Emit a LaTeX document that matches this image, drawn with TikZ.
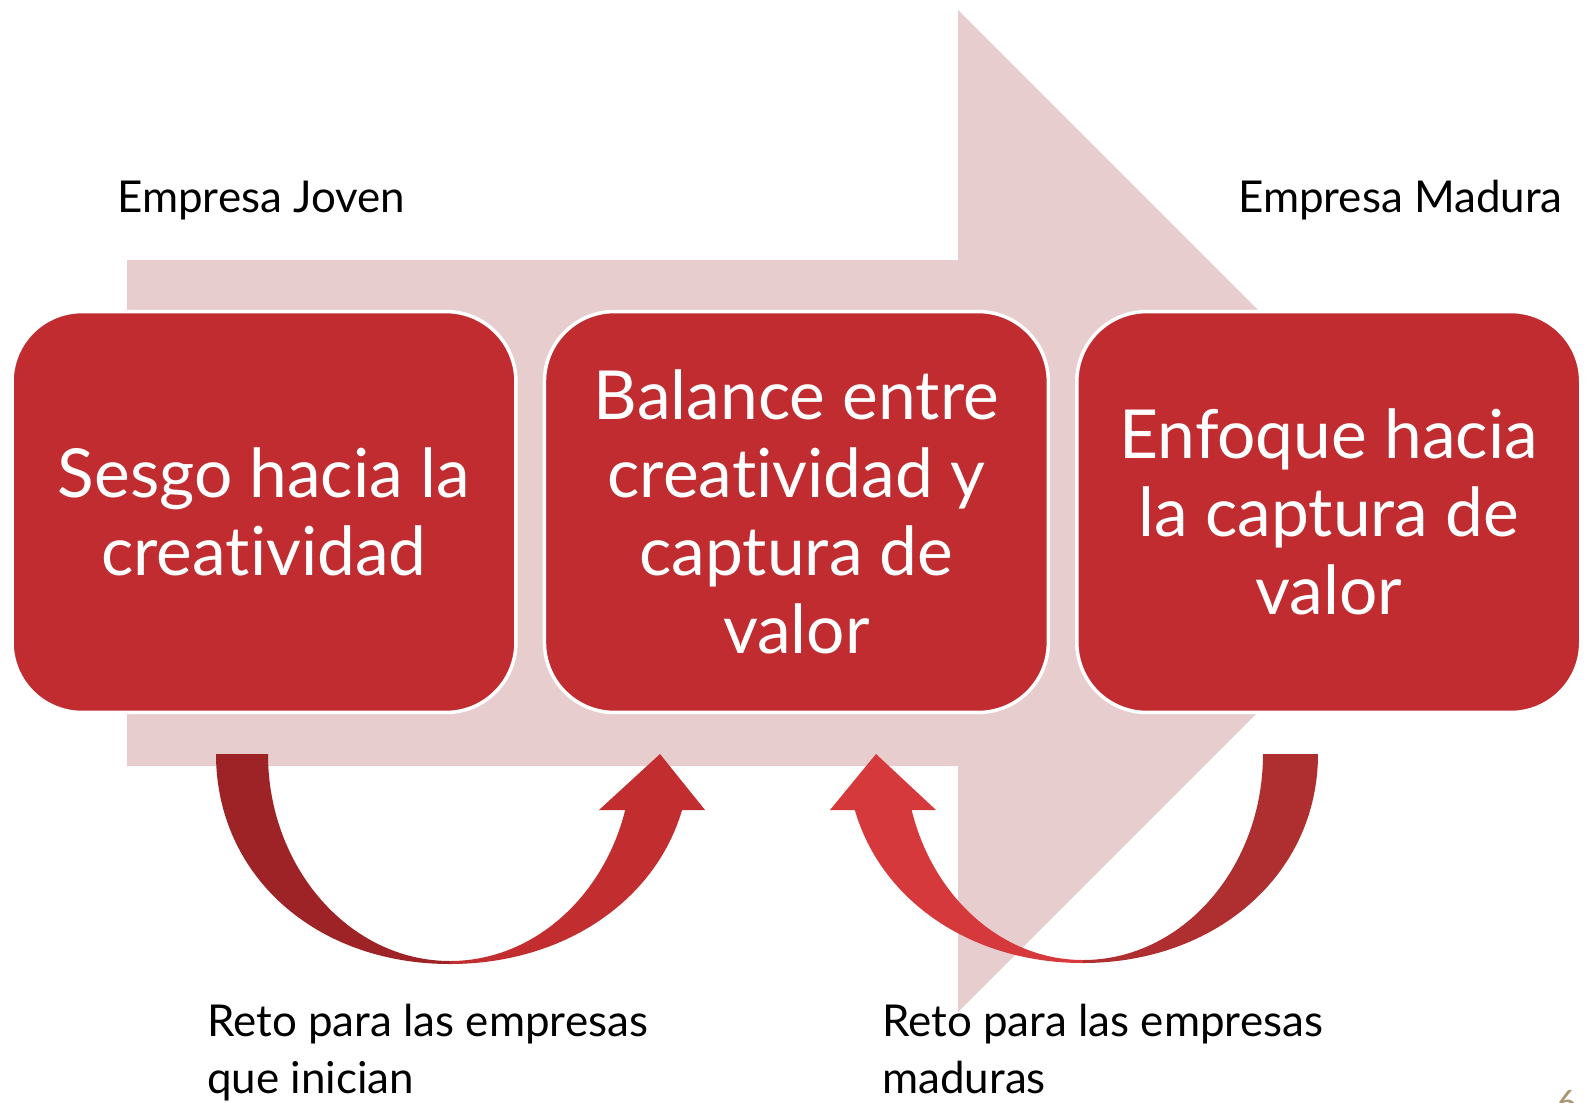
\documentclass[tikz,border=0pt]{standalone}
\usepackage{fontspec}
\setmainfont{Lato}[Ligatures=NoCommon]
\usepackage{tikz}
\usetikzlibrary{calc, positioning}

\definecolor{arrowpink}{RGB}{232,205,206}
\definecolor{boxred}{RGB}{193,44,48}
\definecolor{darkred}{RGB}{158,35,39}
\definecolor{midred}{RGB}{194,46,48}
\definecolor{tailred}{RGB}{175,47,49}
\definecolor{headred}{RGB}{213,57,59}
\definecolor{pagegold}{RGB}{170,150,110}

\tikzset{
  stage/.style={draw=white, line width=0.07cm, fill=boxred, rounded corners=1.4cm,
    minimum width=10.08cm, minimum height=8.02cm, align=center, text=white,
    font=\fontsize{38.5}{44.4}\selectfont},
  lbl/.style={anchor=base west, inner sep=0pt, align=left,
    font=\fontsize{25}{31.9}\selectfont}
}

\begin{document}
\begin{tikzpicture}[x=0.02cm, y=-0.02cm]
\useasboundingbox (0,0) rectangle (1587,1103);

\fill[arrowpink] (127,260) -- (958,260) -- (958,10) -- (1459,511) -- (958,1012) -- (958,766) -- (127,766) -- cycle;

\node[stage] (bias) at (264,512) {Sesgo hacia la\\creatividad};
\node[stage, right=0.5cm of bias] (balance) {Balance entre\\creatividad y\\captura de\\valor};
\node[stage, right=0.5cm of balance] (focus) {Enfoque hacia\\la captura de\\valor};

\node[lbl] (young) at (117,212) {Empresa Joven};
\node[lbl, anchor=base east] (mature) at (1563,212) {Empresa Madura};

\fill[darkred] (216,754) .. controls (216,875) and (315,964) .. (450,964)
  -- (450,961) .. controls (350,961) and (268,868) .. (268,754) -- cycle;
\begin{scope}
  \clip (0,810) rectangle (1587,1103);
  \fill[midred] (450,964) .. controls (585,964) and (690,875) .. (690,754)
    -- (632,754) .. controls (632,868) and (550,961) .. (450,961) -- cycle;
\end{scope}
\fill[midred] (599,810) -- (660,754) -- (705,810) -- cycle;

\fill[tailred] (1318,754) .. controls (1318,875) and (1215,963) .. (1083,963)
  -- (1083,960) .. controls (1182,960) and (1263,868) .. (1263,754) -- cycle;
\begin{scope}
  \clip (0,810) rectangle (1587,1103);
  \fill[headred] (1083,963) .. controls (950,963) and (847,875) .. (847,754)
    -- (905,754) .. controls (905,868) and (985,960) .. (1083,960) -- cycle;
\end{scope}
\fill[headred] (830,810) -- (876,754) -- (936,810) -- cycle;

\node[lbl] (startup) at (207,1093) {Reto para las empresas\\que inician};
\node[lbl] (grown) at (882,1093) {Reto para las empresas\\maduras};

\node[anchor=north west, inner sep=0pt, text=pagegold, font=\fontsize{20}{24}\selectfont] (page) at (1556,1090) {6};
\end{tikzpicture}
\end{document}
